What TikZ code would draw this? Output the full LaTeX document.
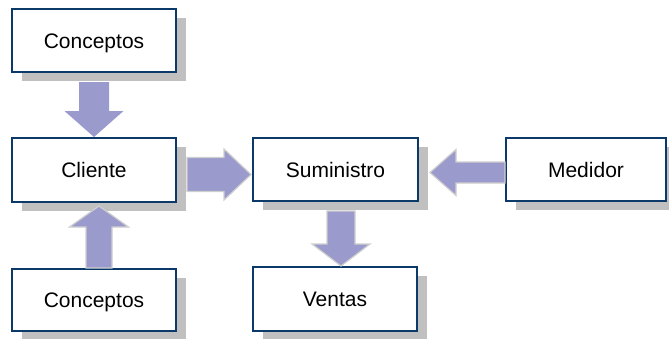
\documentclass[tikz,border=0pt]{standalone}
\usepackage{fontspec}
\setmainfont{Liberation Sans}
\usetikzlibrary{calc,shadows}

\definecolor{boxline}{HTML}{0B3A6A}
\definecolor{boxshadow}{HTML}{C0C0C0}
\definecolor{arrowfill}{HTML}{9A9ACC}
\definecolor{arrowedge}{HTML}{CFCFCF}

% Block arrow from #2 to the tip #3:
% #4 shaft half-width, #5 head half-width, #6 head length, #1 extra options
\newcommand\blockarrow[6][]{%
  \coordinate (ba-head) at ($(#3)!#6!(#2)$);
  \filldraw[arrowbody,#1]
    ($(#2)!#4!90:(#3)$) --
    ($(ba-head)!#4!-90:(#2)$) --
    ($(ba-head)!#5!-90:(#2)$) --
    (#3) --
    ($(ba-head)!#5!90:(#2)$) --
    ($(ba-head)!#4!90:(#2)$) --
    ($(#2)!#4!-90:(#3)$) -- cycle;}

\begin{document}
\begin{tikzpicture}[x=1pt,y=-1pt,
  box/.style={draw=boxline, line width=2pt, fill=white,
    minimum width=164pt, minimum height=63pt, inner sep=0pt,
    font=\fontsize{21}{25}\selectfont, text height=15pt, text depth=0pt,
    drop shadow={shadow xshift=10pt, shadow yshift=-9pt,
      fill=boxshadow, opacity=1}},
  arrowbody/.style={fill=arrowfill, draw=arrowedge, line width=1.2pt,
    line join=miter}]
\useasboundingbox (0,0) rectangle (669,338);

% boxes
\node[box] (c1) at (94,40.5) {Conceptos};
\node[box, minimum height=64pt] (cl) at (94,170) {Cliente};
\node[box, minimum height=62pt] (c2) at (94,300) {Conceptos};
\node[box, minimum width=165pt] (s) at (335.5,169.5) {Suministro};
\node[box, minimum width=160pt] (m) at (586,169.5) {Medidor};
\node[box, minimum height=64pt] (v) at (335,299) {Ventas};

% arrow ends
\coordinate (a1s) at ([yshift=-9pt]c1.south);
\coordinate (a1t) at (cl.north);
\coordinate (a2s) at ([xshift=5pt]c2.north);
\coordinate (a2t) at ([xshift=5pt,yshift=-3pt]cl.south);
\coordinate (a3s) at ([xshift=10pt,yshift=-4.5pt]cl.east);
\coordinate (a3t) at ([xshift=-1pt,yshift=-5pt]s.west);
\coordinate (a4s) at ([yshift=-3pt]m.west);
\coordinate (a4t) at ([xshift=11pt,yshift=-3pt]s.east);
\coordinate (a5s) at ([xshift=5.5pt,yshift=-9pt]s.south);
\coordinate (a5t) at ([xshift=6pt]v.north);

% connectors
\blockarrow[draw=none]{a1s}{a1t}{15pt}{29.5pt}{26pt}
\blockarrow{a2s}{a2t}{13pt}{29.5pt}{21pt}
\blockarrow{a3s}{a3t}{17pt}{25.5pt}{27pt}
\blockarrow{a4s}{a4t}{10.5pt}{23pt}{26pt}
\blockarrow{a5s}{a5t}{14pt}{29pt}{22pt}
\end{tikzpicture}
\end{document}
